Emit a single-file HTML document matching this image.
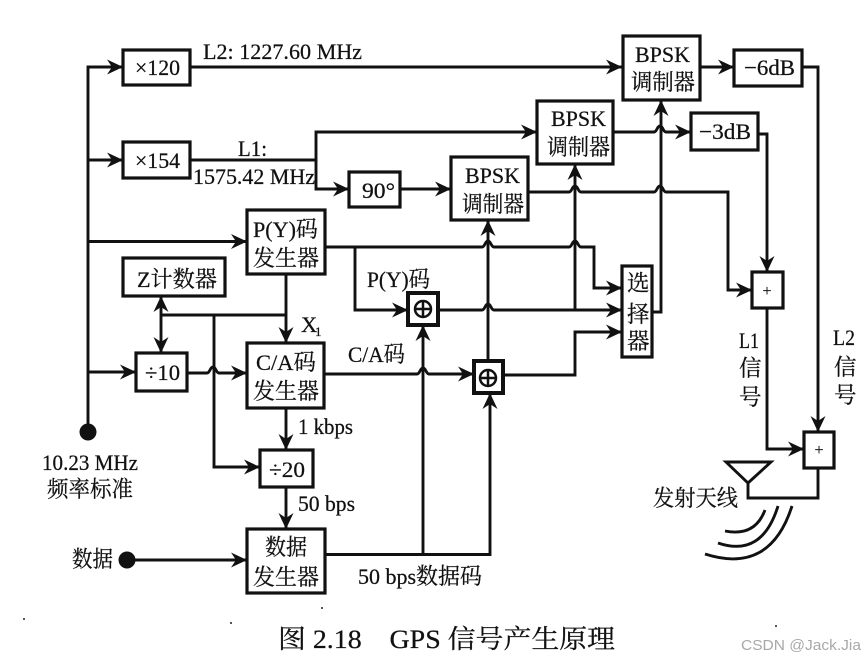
<!DOCTYPE html>
<html><head><meta charset="utf-8"><style>
html,body{margin:0;padding:0;background:#fff}
svg{display:block}
text{font-family:"Liberation Serif","Noto Serif CJK SC",serif;fill:#111;font-size:22.500px;stroke:#111;stroke-width:.25}
.b{fill:#fff;stroke:#111;stroke-width:3.200}
.l{fill:none;stroke:#111;stroke-width:2.900}
</style></head><body>
<svg width="865" height="660" viewBox="0 0 865 660" xmlns="http://www.w3.org/2000/svg">
<defs><marker id="a" markerUnits="userSpaceOnUse" markerWidth="20" markerHeight="18" refX="18" refY="9" orient="auto"><path d="M2,1.500 L18,9 L2,16.500 L7,9z" fill="#111" stroke="none"/></marker></defs>
<g class="l">
<path d="M88,432V67H123" marker-end="url(#a)"/>
<path d="M88,160H123" marker-end="url(#a)"/>
<path d="M88,241.500H247" marker-end="url(#a)"/>
<path d="M88,372H136" marker-end="url(#a)"/>
<path d="M190,67H622" marker-end="url(#a)"/>
<path d="M190,160H316V132H537" marker-end="url(#a)"/>
<path d="M316,160V189H349" marker-end="url(#a)"/>
<path d="M400,189H451" marker-end="url(#a)"/>
<path d="M325,247H482C485,247 485,241 488,241S491,247 494,247H569C572,247 572,241 575,241S578,247 581,247H594V288H622" marker-end="url(#a)"/>
<path d="M355,247V310H408" marker-end="url(#a)"/>
<path d="M286,274V343" marker-end="url(#a)"/>
<path d="M161,315H286"/>
<path d="M161,315V296" marker-end="url(#a)"/>
<path d="M161,315V353" marker-end="url(#a)"/>
<path d="M214,315V467H260" marker-end="url(#a)"/>
<path d="M187,373H207C210,373 210,367 213,367S216,373 219,373H247" marker-end="url(#a)"/>
<path d="M324,374H417C420,374 420,368 423,368S426,374 429,374H474" marker-end="url(#a)"/>
<path d="M423,554V325" marker-end="url(#a)"/>
<path d="M325,554.500H490V393" marker-end="url(#a)"/>
<path d="M488,361V220" marker-end="url(#a)"/>
<path d="M438,310H482C485,310 485,304 488,304S491,310 494,310H622" marker-end="url(#a)"/>
<path d="M575,310V164" marker-end="url(#a)"/>
<path d="M503,375H575V332H622" marker-end="url(#a)"/>
<path d="M652,312H661V100" marker-end="url(#a)"/>
<path d="M613,132H654C657,132 657,126 660,126S663,132 666,132H691" marker-end="url(#a)"/>
<path d="M528,192H569C572,192 572,186 575,186S578,192 581,192H654C657,192 657,186 660,186S663,192 666,192H728V290H752" marker-end="url(#a)"/>
<path d="M700,67H734" marker-end="url(#a)"/>
<path d="M802,67H818V432" marker-end="url(#a)"/>
<path d="M758,134H767V272" marker-end="url(#a)"/>
<path d="M767,308V449H804" marker-end="url(#a)"/>
<path d="M818,468V498H748V483"/>
<path d="M286,408V450" marker-end="url(#a)"/>
<path d="M286,487V529" marker-end="url(#a)"/>
<path d="M127,560H247" marker-end="url(#a)"/>
<path d="M726,462H771L748,483z" fill="#fff"/>
<path d="M765,510Q755,537 725,531"/>
<path d="M778,506Q762,558 718,543"/>
<path d="M792,506Q770,575 705,554"/>
</g>
<circle cx="88" cy="432" r="8.500" fill="#111"/>
<circle cx="127" cy="560" r="8.500" fill="#111"/>
<g fill="#222"><circle cx="322" cy="608" r="1"/><circle cx="24" cy="619" r="1"/><circle cx="231" cy="623" r="1"/><circle cx="776" cy="626" r="1"/></g>
<rect class="b" x="123" y="50" width="67" height="35"/>
<rect class="b" x="123" y="142" width="67" height="36"/>
<rect class="b" x="349" y="172" width="51" height="35"/>
<rect class="b" x="247" y="210" width="78" height="64"/>
<rect class="b" x="123" y="258" width="102" height="38"/>
<rect class="b" x="136" y="353" width="51" height="38"/>
<rect class="b" x="247" y="343" width="77" height="65"/>
<rect class="b" x="260" y="450" width="53" height="37"/>
<rect class="b" x="247" y="529" width="78" height="64"/>
<rect class="b" x="451" y="157" width="77" height="63"/>
<rect class="b" x="537" y="101" width="76" height="63"/>
<rect class="b" x="623" y="36" width="77" height="64"/>
<rect class="b" x="734" y="50" width="68" height="36"/>
<rect class="b" x="691" y="113" width="67" height="37"/>
<rect class="b" x="622" y="266" width="30" height="91"/>
<rect class="b" x="752" y="272" width="31" height="36"/>
<rect class="b" x="804" y="432" width="30" height="36"/>
<rect class="b" x="408" y="293" width="30" height="32" style="stroke-width:4"/>
<rect class="b" x="474" y="361" width="29" height="32" style="stroke-width:4"/>
<g fill="none" stroke="#111" stroke-width="2.500">
<circle cx="423" cy="309" r="8"/><path d="M415,309H431M423,301V317"/>
<circle cx="488" cy="378" r="8"/><path d="M480,378H496M488,370V386"/>
</g>
<g>
<text x="135" y="75" textLength="45" lengthAdjust="spacingAndGlyphs">×120</text>
<text x="135" y="168" textLength="45" lengthAdjust="spacingAndGlyphs">×154</text>
<text x="203" y="59" textLength="159" lengthAdjust="spacingAndGlyphs">L2: 1227.60 MHz</text>
<text x="238" y="156" textLength="29" lengthAdjust="spacingAndGlyphs">L1:</text>
<text x="193" y="184" textLength="122" lengthAdjust="spacingAndGlyphs">1575.42 MHz</text>
<text x="362" y="198" textLength="33" lengthAdjust="spacingAndGlyphs">90°</text>
<text x="253" y="237" textLength="65" lengthAdjust="spacingAndGlyphs">P(Y)码</text>
<text x="253" y="266" textLength="66" lengthAdjust="spacingAndGlyphs">发生器</text>
<text x="137" y="287" textLength="80" lengthAdjust="spacingAndGlyphs">Z计数器</text>
<text x="367" y="287" textLength="63" lengthAdjust="spacingAndGlyphs">P(Y)码</text>
<text x="301" y="332">X</text><text x="315" y="336" style="font-size:13px">1</text>
<text x="256" y="370" textLength="60" lengthAdjust="spacingAndGlyphs">C/A码</text>
<text x="253" y="399" textLength="66" lengthAdjust="spacingAndGlyphs">发生器</text>
<text x="348" y="362" textLength="57" lengthAdjust="spacingAndGlyphs">C/A码</text>
<text x="145" y="380" textLength="35" lengthAdjust="spacingAndGlyphs">÷10</text>
<text x="298" y="434" textLength="55" lengthAdjust="spacingAndGlyphs">1 kbps</text>
<text x="269" y="477" textLength="36" lengthAdjust="spacingAndGlyphs">÷20</text>
<text x="298" y="511" textLength="57" lengthAdjust="spacingAndGlyphs">50 bps</text>
<text x="42" y="470" textLength="96" lengthAdjust="spacingAndGlyphs">10.23 MHz</text>
<text x="47" y="497" textLength="86" lengthAdjust="spacingAndGlyphs">频率标准</text>
<text x="72" y="567" textLength="41" lengthAdjust="spacingAndGlyphs">数据</text>
<text x="265" y="555" textLength="42" lengthAdjust="spacingAndGlyphs">数据</text>
<text x="253" y="585" textLength="66" lengthAdjust="spacingAndGlyphs">发生器</text>
<text x="358" y="584" textLength="124" lengthAdjust="spacingAndGlyphs">50 bps数据码</text>
<text x="635" y="62" textLength="55" lengthAdjust="spacingAndGlyphs">BPSK</text>
<text x="631" y="90" textLength="64" lengthAdjust="spacingAndGlyphs">调制器</text>
<text x="551" y="126" textLength="55" lengthAdjust="spacingAndGlyphs">BPSK</text>
<text x="547" y="155" textLength="63" lengthAdjust="spacingAndGlyphs">调制器</text>
<text x="465" y="183" textLength="55" lengthAdjust="spacingAndGlyphs">BPSK</text>
<text x="462" y="212" textLength="62" lengthAdjust="spacingAndGlyphs">调制器</text>
<text x="744" y="75" textLength="51" lengthAdjust="spacingAndGlyphs">−6dB</text>
<text x="699" y="139" textLength="52" lengthAdjust="spacingAndGlyphs">−3dB</text>
<text x="627" y="291">选</text><text x="627" y="322">择</text><text x="627" y="349">器</text>
<text x="767" y="296" text-anchor="middle" style="font-size:16px">+</text>
<text x="819" y="455" text-anchor="middle" style="font-size:16px">+</text>
<text x="739" y="348" textLength="20" lengthAdjust="spacingAndGlyphs">L1</text>
<text x="739" y="376">信</text><text x="739" y="405">号</text>
<text x="833" y="345" textLength="22" lengthAdjust="spacingAndGlyphs">L2</text>
<text x="834" y="375">信</text><text x="834" y="403">号</text>
<text x="653" y="506" textLength="85" lengthAdjust="spacingAndGlyphs">发射天线</text>
<text x="278" y="648" textLength="337" lengthAdjust="spacingAndGlyphs" xml:space="preserve" style="font-size:26px">图 2.18　GPS 信号产生原理</text>
<text x="741" y="650" textLength="120" lengthAdjust="spacingAndGlyphs" style="font-family:'Liberation Sans',sans-serif;font-size:15px;fill:#a8a8a8;stroke:none">CSDN @Jack.Jia</text>
</g>
</svg>
</body></html>
